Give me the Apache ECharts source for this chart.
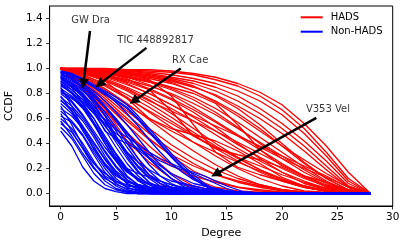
<!DOCTYPE html>
<html><head><meta charset="utf-8">
<script src="https://cdn.jsdelivr.net/npm/echarts@6/dist/echarts.min.js"></script>
<style>html,body{margin:0;padding:0;background:#fff}#c{width:408px;height:245px}</style>
</head><body><div id="c"></div>
<script>
// HADS curves: CCDF sampled at degrees 0,2,4,...,28
const hadsDegrees = [0,2,4,6,8,10,12,14,16,18,20,22,24,26,28];
const hadsCurves = [
  [1,1,1,0.99,0.99,0.98,0.96,0.93,0.88,0.81,0.71,0.56,0.38,0.17,0],
  [1,1,0.99,0.99,0.98,0.97,0.95,0.91,0.86,0.78,0.67,0.52,0.33,0.12,0],
  [1,1,0.99,0.98,0.97,0.95,0.92,0.88,0.82,0.74,0.63,0.48,0.30,0.10,0],
  [1,0.99,0.99,0.98,0.96,0.93,0.90,0.85,0.78,0.68,0.56,0.42,0.26,0.08,0],
  [1,0.99,0.98,0.97,0.95,0.92,0.88,0.82,0.74,0.64,0.52,0.38,0.22,0.06,0],
  [1,0.99,0.98,0.96,0.93,0.90,0.85,0.79,0.70,0.60,0.48,0.34,0.19,0.05,0],
  [1,0.99,0.98,0.96,0.94,0.91,0.86,0.78,0.68,0.55,0.40,0.25,0.12,0.03,0],
  [1,0.99,0.97,0.95,0.92,0.88,0.82,0.74,0.64,0.52,0.38,0.24,0.12,0.03,0],
  [1,0.99,0.97,0.94,0.90,0.84,0.77,0.68,0.57,0.45,0.33,0.21,0.10,0.02,0],
  [1,0.98,0.96,0.93,0.89,0.83,0.75,0.65,0.53,0.40,0.28,0.17,0.08,0.02,0],
  [1,0.98,0.95,0.91,0.86,0.80,0.72,0.63,0.52,0.41,0.30,0.19,0.09,0.02,0],
  [1,0.98,0.95,0.90,0.84,0.76,0.67,0.57,0.46,0.35,0.24,0.14,0.06,0.01,0],
  [1,0.97,0.94,0.89,0.83,0.75,0.65,0.53,0.40,0.28,0.17,0.08,0.03,0.01,0],
  [1,0.97,0.93,0.87,0.80,0.71,0.61,0.50,0.39,0.29,0.20,0.12,0.06,0.02,0],
  [1,0.97,0.92,0.85,0.77,0.68,0.58,0.47,0.36,0.26,0.17,0.10,0.04,0.01,0],
  [1,0.96,0.91,0.84,0.75,0.64,0.52,0.40,0.29,0.19,0.11,0.05,0.02,0,0],
  [1,0.96,0.90,0.82,0.72,0.61,0.49,0.38,0.28,0.19,0.12,0.06,0.02,0,0],
  [1,0.95,0.88,0.79,0.69,0.58,0.47,0.36,0.26,0.17,0.10,0.05,0.02,0,0],
  [1,0.95,0.87,0.77,0.65,0.53,0.41,0.30,0.20,0.12,0.06,0.02,0.01,0,0],
  [1,0.94,0.86,0.76,0.66,0.56,0.46,0.37,0.29,0.22,0.15,0.09,0.04,0.01,0],
  [1,0.94,0.84,0.72,0.59,0.46,0.34,0.23,0.14,0.07,0.03,0.01,0,0,0],
  [1,0.93,0.83,0.71,0.60,0.50,0.41,0.33,0.25,0.18,0.11,0.06,0.02,0,0],
  [1,0.92,0.80,0.66,0.52,0.39,0.28,0.19,0.12,0.07,0.03,0.01,0,0,0],
  [1,0.91,0.78,0.63,0.48,0.35,0.24,0.15,0.09,0.05,0.02,0.01,0,0,0],
  [1,0.90,0.76,0.60,0.44,0.30,0.18,0.10,0.05,0.02,0.01,0,0,0,0],
  [1,0.89,0.74,0.58,0.43,0.31,0.22,0.15,0.10,0.06,0.03,0.01,0,0,0],
  [1,0.88,0.72,0.55,0.38,0.23,0.12,0.05,0.02,0.01,0,0,0,0,0],
  [1,0.86,0.68,0.49,0.31,0.16,0.06,0.02,0.01,0,0,0,0,0,0],
  [1,0.85,0.66,0.48,0.33,0.22,0.14,0.09,0.05,0.03,0.01,0,0,0,0],
  [1,0.83,0.62,0.42,0.25,0.12,0.04,0.01,0,0,0,0,0,0,0],
  [1,0.99,0.97,0.93,0.87,0.79,0.69,0.58,0.47,0.37,0.28,0.20,0.13,0.05,0],
  [1,1,0.99,0.97,0.94,0.89,0.82,0.73,0.62,0.50,0.38,0.27,0.16,0.06,0],
  [1,0.98,0.94,0.88,0.80,0.71,0.62,0.54,0.46,0.38,0.30,0.22,0.14,0.05,0],
  [1,0.97,0.91,0.83,0.74,0.66,0.58,0.50,0.41,0.32,0.23,0.14,0.07,0.02,0],
  [1,0.88,0.68,0.42,0.14,0.02,0,0,0,0,0,0,0,0,0],
  [1,0.99,0.98,0.96,0.91,0.78,0.55,0.33,0.21,0.15,0.10,0.05,0.02,0,0],
  [1,0.99,0.97,0.92,0.83,0.66,0.46,0.36,0.31,0.27,0.21,0.13,0.05,0.01,0],
  [1,0.98,0.96,0.94,0.90,0.85,0.80,0.72,0.55,0.35,0.22,0.14,0.09,0.03,0],
  [1,0.97,0.90,0.76,0.60,0.52,0.47,0.42,0.34,0.24,0.13,0.06,0.02,0,0]
];

// Non-HADS curves: CCDF at degrees 0,1,2,... until it reaches 0 (then 0 up to maxDegree)
const maxDegree = 28;
const nonHadsCurves = [
  [0.50,0.38,0.21,0.10,0.04,0.015,0],
  [0.53,0.44,0.30,0.16,0.07,0.03,0.01,0],
  [0.56,0.49,0.36,0.21,0.10,0.04,0.015,0],
  [0.60,0.52,0.40,0.26,0.13,0.06,0.02,0],
  [0.62,0.57,0.46,0.31,0.17,0.08,0.03,0.01,0],
  [0.66,0.58,0.47,0.33,0.20,0.10,0.05,0.02,0],
  [0.68,0.62,0.52,0.38,0.23,0.12,0.05,0.02,0],
  [0.72,0.64,0.53,0.40,0.27,0.16,0.08,0.04,0.02,0],
  [0.74,0.68,0.58,0.45,0.30,0.17,0.08,0.03,0.01,0],
  [0.77,0.70,0.60,0.47,0.33,0.21,0.11,0.05,0.02,0],
  [0.80,0.73,0.62,0.48,0.34,0.22,0.13,0.07,0.03,0.01,0],
  [0.82,0.77,0.68,0.55,0.40,0.26,0.14,0.07,0.03,0.01,0],
  [0.84,0.78,0.69,0.57,0.44,0.31,0.19,0.10,0.05,0.02,0],
  [0.86,0.81,0.72,0.60,0.46,0.32,0.20,0.11,0.05,0.02,0.01,0],
  [0.88,0.83,0.75,0.64,0.51,0.37,0.24,0.14,0.07,0.03,0.01,0],
  [0.89,0.85,0.78,0.68,0.55,0.41,0.28,0.17,0.09,0.04,0.02,0],
  [0.90,0.86,0.79,0.70,0.59,0.46,0.33,0.21,0.12,0.06,0.03,0.01,0],
  [0.91,0.87,0.80,0.70,0.58,0.44,0.30,0.18,0.09,0.04,0.02,0],
  [0.92,0.88,0.82,0.74,0.63,0.50,0.37,0.25,0.15,0.08,0.04,0.02,0],
  [0.93,0.89,0.83,0.75,0.65,0.53,0.40,0.28,0.18,0.10,0.05,0.02,0.01,0],
  [0.94,0.90,0.85,0.78,0.69,0.58,0.46,0.34,0.23,0.14,0.08,0.04,0.02,0],
  [0.95,0.91,0.86,0.79,0.70,0.60,0.49,0.38,0.28,0.19,0.12,0.07,0.04,0.02,0.01,0],
  [0.96,0.93,0.88,0.82,0.74,0.65,0.55,0.44,0.33,0.23,0.15,0.09,0.05,0.02,0.01,0],
  [0.98,0.96,0.92,0.87,0.82,0.77,0.71,0.62,0.52,0.42,0.32,0.23,0.15,0.08,0.03,0.01,0],
  [0.98,0.95,0.91,0.86,0.81,0.75,0.69,0.60,0.50,0.40,0.30,0.21,0.13,0.07,0.03,0.01,0],
  [0.97,0.95,0.90,0.85,0.79,0.74,0.68,0.59,0.49,0.39,0.29,0.20,0.12,0.06,0.02,0],
  [0.90,0.83,0.75,0.67,0.59,0.51,0.45,0.39,0.33,0.28,0.24,0.20,0.17,0.14,0.10,0.06,0.03,0],
  [0.88,0.81,0.73,0.64,0.56,0.48,0.42,0.36,0.31,0.26,0.22,0.19,0.16,0.12,0.08,0.04,0.01,0],
  [0.70,0.55,0.38,0.24,0.14,0.09,0.06,0.05,0.04,0.035,0.03,0.025,0.02,0.02,0.015,0.01,0.01,0.005,0.005,0],
  [0.85,0.70,0.52,0.35,0.22,0.14,0.09,0.07,0.05,0.04,0.03,0.03,0.02,0.02,0.02,0.01,0.01,0.01,0.005,0.005,0],
  [0.78,0.66,0.50,0.36,0.24,0.15,0.10,0.07,0.05,0.04,0.03,0.02,0.02,0.01,0.01,0],
  [0.93,0.85,0.72,0.56,0.40,0.27,0.18,0.12,0.08,0.06,0.05,0.04,0.03,0.02,0.02,0.01,0.01,0],
  [0.96,0.92,0.84,0.72,0.58,0.44,0.32,0.22,0.15,0.10,0.07,0.05,0.04,0.03,0.02,0.02,0.01,0.01,0],
  [0.64,0.50,0.36,0.24,0.16,0.10,0.07,0.05,0.03,0.02,0.01,0],
  [0.58,0.46,0.32,0.20,0.12,0.07,0.04,0.03,0.02,0.01,0],
  [0.97,0.94,0.88,0.80,0.70,0.59,0.48,0.38,0.29,0.22,0.16,0.12,0.08,0.06,0.04,0.02,0.01,0],
  [0.92,0.86,0.77,0.66,0.54,0.43,0.33,0.25,0.19,0.14,0.10,0.08,0.06,0.04,0.03,0.02,0.01,0],
  [0.95,0.92,0.86,0.76,0.62,0.46,0.32,0.21,0.13,0.08,0.05,0.03,0.02,0.01,0],
  [0.87,0.80,0.70,0.56,0.42,0.29,0.19,0.12,0.08,0.05,0.03,0.02,0.01,0],
  [0.83,0.74,0.63,0.50,0.37,0.26,0.17,0.11,0.07,0.04,0.02,0.01,0],
  [0.75,0.66,0.54,0.41,0.28,0.18,0.11,0.06,0.03,0.02,0.01,0],
  [0.97,0.95,0.91,0.86,0.80,0.73,0.64,0.54,0.43,0.33,0.24,0.17,0.11,0.07,0.04,0.02,0.01,0],
  [0.94,0.88,0.80,0.66,0.50,0.44,0.40,0.35,0.28,0.20,0.12,0.06,0.02,0],
  [0.81,0.76,0.70,0.60,0.44,0.28,0.20,0.16,0.13,0.10,0.07,0.04,0.02,0.01,0]
];

const xTicks = [0,5,10,15,20,25,30];
const yTicks = [0,0.2,0.4,0.6,0.8,1.0,1.2,1.4];

const annotationNames = ['GW Dra','TIC 448892817','RX Cae','V353 Vel'];
const annotationText  = [[2.7,1.385],[8.57,1.225],[11.7,1.065],[24.15,0.675]];
const annotationTail  = [[2.65,1.30],[7.75,1.165],[10.85,1.0],[23.1,0.605]];
const annotationHead  = [[2.05,0.88],[3.5,0.875],[6.6,0.74],[14.0,0.155]];

const FONT = 'DejaVu Sans';
const series = [];
hadsCurves.forEach(c => {
  series.push({
    name: 'HADS', type: 'line', showSymbol: false, symbol: 'none', silent: true,
    data: c.map((v,i) => [hadsDegrees[i], v]),
    lineStyle: {color: '#ff0000', width: 1.3},
    itemStyle: {color: '#ff0000'},
    emphasis: {disabled: true}, z: 2
  });
});
nonHadsCurves.forEach(c => {
  const d = c.map((v,i) => [i, v]);
  d.push([maxDegree, 0]);
  series.push({
    name: 'Non-HADS', type: 'line', showSymbol: false, symbol: 'none', silent: true,
    data: d,
    lineStyle: {color: '#0000ff', width: 1.3},
    itemStyle: {color: '#0000ff'},
    emphasis: {disabled: true}, z: 3
  });
});
series.push({
  type: 'line', data: [], silent: true, z: 5,
  markLine: {
    silent: true, animation: false,
    symbol: ['none','triangle'], symbolSize: 10,
    label: {show: false},
    lineStyle: {color: '#000', width: 2.5, type: 'solid'},
    itemStyle: {color: '#000'},
    emphasis: {disabled: true},
    data: annotationNames.map((n,i) => [{coord: annotationTail[i]}, {coord: annotationHead[i]}])
  }
});
series.push({
  type: 'scatter', silent: true, symbolSize: 0, z: 6,
  data: annotationNames.map((n,i) => [annotationText[i][0], annotationText[i][1], n]),
  label: {show: true, position: 'inside', formatter: p => p.data[2],
          color: '#000', fontFamily: FONT, fontSize: 10, textBorderWidth: 0}
});

const chart = echarts.init(document.getElementById('c'), null, {renderer: 'canvas'});
chart.setOption({
  animation: false,
  backgroundColor: '#fff',
  grid: {left: 49.6, right: 15.3, top: 6, bottom: 39, containLabel: false, outerBoundsMode: 'none',
         show: true, borderColor: '#000', borderWidth: 1, backgroundColor: 'transparent'},
  legend: {
    data: ['HADS','Non-HADS'], orient: 'vertical', left: 300.7, top: 11.3, padding: 0,
    icon: 'rect', itemWidth: 22, itemHeight: 2, itemGap: 2.4,
    textStyle: {fontFamily: FONT, fontSize: 10, color: '#000', lineHeight: 12, padding: [0,0,0,3]},
    selectedMode: false
  },
  xAxis: {
    type: 'value', min: -1, max: 30,
    name: 'Degree', nameLocation: 'middle', nameGap: 20,
    nameTextStyle: {fontFamily: FONT, fontSize: 11, color: '#000'},
    splitLine: {show: false},
    axisLine: {show: true, onZero: false, lineStyle: {color: '#000', width: 1}},
    axisTick: {show: true, inside: false, length: 3.5, customValues: xTicks, lineStyle: {color: '#000', width: 0.8}},
    axisLabel: {customValues: xTicks, margin: 6, fontFamily: FONT, fontSize: 10.5, color: '#000'}
  },
  yAxis: {
    type: 'value', min: -0.1, max: 1.5,
    name: 'CCDF', nameLocation: 'middle', nameGap: 32, nameRotate: 90,
    nameTextStyle: {fontFamily: FONT, fontSize: 11, color: '#000'},
    splitLine: {show: false},
    axisLine: {show: true, onZero: false, lineStyle: {color: '#000', width: 1}},
    axisTick: {show: true, inside: false, length: 3.5, customValues: yTicks, lineStyle: {color: '#000', width: 0.8}},
    axisLabel: {customValues: yTicks, margin: 7, fontFamily: FONT, fontSize: 10.5, color: '#000',
                formatter: v => Number(v).toFixed(1)}
  },
  series: series
});
</script></body></html>
